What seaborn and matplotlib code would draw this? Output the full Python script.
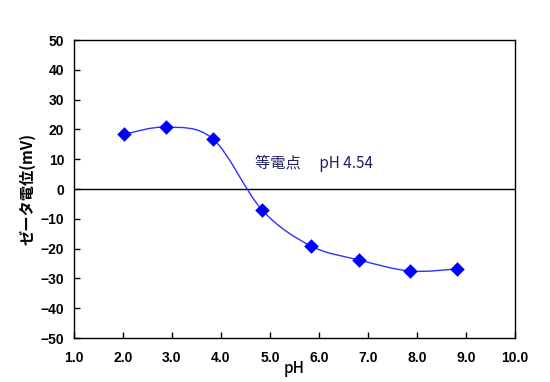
import numpy as np
import pandas as pd
import matplotlib
matplotlib.use("Agg")
import matplotlib.pyplot as plt
from matplotlib.path import Path
from matplotlib.patches import PathPatch
import seaborn as sns

# measured points (pH, zeta potential mV)
ph = [2.02, 2.88, 3.84, 4.84, 5.84, 6.82, 7.86, 8.82]
zeta = [18.4, 20.8, 16.8, -7.0, -19.1, -23.8, -27.5, -26.8]
xticks = [1.0, 2.0, 3.0, 4.0, 5.0, 6.0, 7.0, 8.0, 9.0, 10.0]
yticks = [-50, -40, -30, -20, -10, 0, 10, 20, 30, 40, 50]
note = "等電点　 pH 4.54"

sns.set_theme(style="white")
plt.rcParams['font.family'] = ['Noto Sans CJK JP', 'DejaVu Sans']

df = pd.DataFrame({"pH": ph, "zeta": zeta})

fig = plt.figure(figsize=(5.5, 3.82), dpi=100)
ax = fig.add_axes([0.1345, 0.115, 0.8015, 0.78])

# smooth line through the points (Catmull-Rom as bezier segments)
pts = df[["pH", "zeta"]].to_numpy()
ext = np.vstack([pts[0], pts, pts[-1]])
verts = [tuple(pts[0])]
codes = [Path.MOVETO]
for i in range(1, len(ext) - 2):
    p0, p1, p2, p3 = ext[i - 1], ext[i], ext[i + 1], ext[i + 2]
    c1 = p1 + (p2 - p0) / 6.0
    c2 = p2 - (p3 - p1) / 6.0
    verts += [tuple(c1), tuple(c2), tuple(p2)]
    codes += [Path.CURVE4] * 3
ax.add_patch(PathPatch(Path(verts, codes), fill=False, edgecolor="#3030ff", lw=1.0, zorder=2))

sns.scatterplot(data=df, x="pH", y="zeta", marker="D", s=55, color="#0000ff",
                edgecolor="#0000ff", linewidth=0, zorder=3, ax=ax)

ax.axhline(0, color="black", lw=1.0, zorder=1)

ax.set_xlim(1.0, 10.0)
ax.set_ylim(-50, 50)
ax.set_xticks(xticks)
ax.set_yticks(yticks)
ax.set_xticklabels([f"{t:.1f}" for t in xticks])
ax.set_yticklabels([str(t).replace("-", "\u2212") for t in yticks])
for lab in ax.get_xticklabels() + ax.get_yticklabels():
    lab.set_family(['Liberation Sans', 'DejaVu Sans'])
    lab.set_fontweight('bold')
    lab.set_fontsize(10)
    lab.set_color('black')
ax.tick_params(axis="both", direction="in", length=4, width=1, color="black",
               left=True, bottom=True)
ax.tick_params(axis="x", pad=9)
ax.tick_params(axis="y", pad=7)

for s in ax.spines.values():
    s.set_color("black")
    s.set_linewidth(1.0)

ax.set_xlabel("pH", fontsize=11, fontweight="medium", color="black", labelpad=-3)
ax.set_ylabel("ゼータ電位(mV)", fontsize=11, fontweight="bold", color="black", labelpad=4)

ax.text(5.9, 8.7, note, ha="center", va="center", fontsize=11, color="#202060")

fig.savefig("out.png", dpi=100)
